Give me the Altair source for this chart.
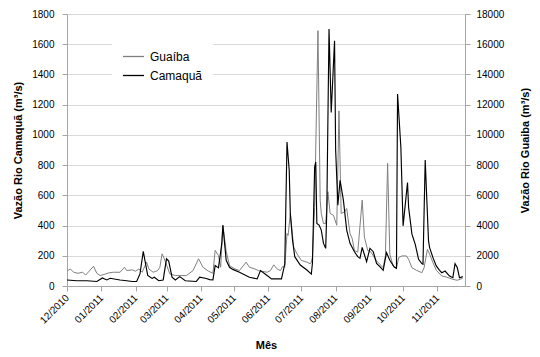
import altair as alt
import pandas as pd

# Days since 2010-12-01 and flow values
cam_day = [0, 9, 18, 27, 32, 36, 39, 44, 48, 54,
           59, 63, 66, 69, 71, 73, 77, 79, 83, 87,
           90, 92, 95, 98, 102, 107, 117, 120, 126, 129,
           132, 134, 137, 140, 141, 144, 147, 150, 156, 165,
           172, 175, 181, 185, 194, 197, 199, 201, 202, 204,
           206, 211, 217, 221, 222, 224, 225, 226, 228, 230,
           232, 234, 235, 237, 239, 242, 243, 245, 247, 250,
           253, 256, 260, 263, 265, 267, 271, 274, 277, 280,
           283, 286, 289, 292, 296, 298, 299, 302, 304, 308,
           309, 312, 315, 318, 321, 322, 324, 327, 328, 331,
           334, 337, 339, 342, 346, 349, 351, 353, 355, 358]
cam_val = [40, 35, 35, 30, 53, 40, 51, 45, 40, 35,
           30, 30, 80, 229, 150, 70, 50, 58, 35, 40,
           180, 165, 58, 40, 62, 35, 30, 58, 50, 42,
           40, 135, 120, 280, 402, 170, 124, 110, 91, 58,
           47, 102, 69, 47, 47, 147, 953, 766, 480, 304,
           194, 139, 106, 79, 150, 788, 820, 414, 403, 370,
           282, 249, 500, 1700, 1148, 1623, 900, 535, 700, 568,
           370, 282, 227, 194, 183, 255, 161, 249, 227, 150,
           128, 104, 221, 170, 126, 117, 1271, 917, 398, 685,
           519, 343, 276, 177, 148, 144, 833, 298, 254, 188,
           133, 104, 88, 99, 66, 55, 148, 122, 55, 62]

gua_day = [0, 3, 6, 10, 14, 17, 20, 24, 27, 30,
           35, 38, 42, 48, 52, 54, 59, 62, 65, 68,
           72, 74, 78, 82, 84, 86, 88, 93, 98, 108,
           114, 119, 123, 128, 132, 134, 137, 139, 141, 144,
           147, 152, 156, 162, 165, 170, 173, 176, 181, 184,
           187, 190, 193, 195, 197, 199, 200, 202, 205, 208,
           212, 217, 220, 221, 222, 224, 227, 229, 230, 232,
           234, 236, 238, 241, 244, 246, 248, 251, 253, 256,
           258, 260, 263, 267, 269, 272, 275, 280, 286, 288,
           290, 292, 295, 298, 300, 303, 307, 309, 312, 316,
           321, 323, 326, 328, 331, 334, 339, 343, 349, 353,
           358]
gua_val = [980, 1130, 910, 840, 910, 730, 980, 1310, 840, 690,
           800, 870, 910, 910, 1240, 1020, 1070, 980, 1130, 910,
           1580, 1130, 910, 1020, 1240, 2130, 1800, 800, 690, 690,
           1020, 1800, 1240, 980, 840, 2360, 2020, 1240, 4020, 2300,
           1350, 1130, 1020, 1580, 1240, 1130, 1020, 980, 910, 1020,
           1400, 1130, 1020, 1290, 1240, 3470, 3350, 4800, 2580, 2130,
           1690, 1580, 1470, 1580, 1910, 5200, 16900, 5680, 4800, 4130,
           4130, 6240, 4800, 4680, 4020, 11590, 4800, 4910, 5130, 3470,
           3130, 2350, 2240, 5680, 3240, 2350, 2240, 1660, 1210, 2000,
           8120, 2100, 1330, 1150, 1880, 1990, 1990, 1770, 1210, 1040,
           880, 1210, 2430, 2100, 1550, 1040, 660, 600, 440, 380,
           510]

series_names = ["Guaíba", "Camaquã"]
series_colors = ["#808080", "#000000"]
left_ticks = list(range(0, 1801, 200))
right_ticks = list(range(0, 18001, 2000))

base_date = pd.Timestamp("2010-12-01")
cam = pd.DataFrame({"date": base_date + pd.to_timedelta(cam_day, unit="D"),
                    "value": cam_val, "series": "Camaquã"})
gua = pd.DataFrame({"date": base_date + pd.to_timedelta(gua_day, unit="D"),
                    "value": gua_val, "series": "Guaíba"})

FONT = "Liberation Sans"
AXC = "#a6a6a6"

month_ticks = [alt.DateTime(year=2010, month=12, date=1)] + [
    alt.DateTime(year=2011, month=m, date=1) for m in range(1, 12)]
xscale = alt.Scale(domain=[alt.DateTime(year=2010, month=12, date=1),
                           alt.DateTime(year=2011, month=11, date=26)])
xaxis = alt.Axis(values=month_ticks, format="%m/%Y", formatType="time",
                 labelAngle=315, labelAlign="right", labelBaseline="middle",
                 labelPadding=5, labelOverlap=False, tickSize=5, grid=False,
                 title="Mês", titleY=59, titleBaseline="middle",
                 domainColor=AXC, tickColor=AXC)

color = alt.Color("series:N",
                  scale=alt.Scale(domain=series_names, range=series_colors),
                  legend=alt.Legend(title=None, orient="none", legendX=45, legendY=21,
                                    symbolType="stroke", symbolSize=441,
                                    symbolStrokeWidth=1.3, labelFontSize=12,
                                    labelFont=FONT, fillColor="white", padding=10,
                                    rowPadding=1, labelOffset=5))

gua_line = alt.Chart(gua).mark_line(strokeWidth=1.0).encode(
    x=alt.X("date:T", scale=xscale, axis=xaxis),
    y=alt.Y("value:Q", scale=alt.Scale(domain=[0, 18000]),
            axis=alt.Axis(orient="right", values=right_ticks, format="d", grid=False,
                          title="Vazão Rio Guaiba (m³/s)", tickSize=5, labelPadding=6,
                          domainColor=AXC, tickColor=AXC, labelOverlap=False,
                          titleX=60, titleY=136, titleAngle=270,
                          titleBaseline="middle", titleAlign="center")),
    color=color,
)

cam_line = alt.Chart(cam).mark_line(strokeWidth=1.15).encode(
    x=alt.X("date:T", scale=xscale, axis=xaxis),
    y=alt.Y("value:Q", scale=alt.Scale(domain=[0, 1800]),
            axis=alt.Axis(orient="left", values=left_ticks, format="d", grid=True,
                          gridColor="#d9d9d9", title="Vazão Rio Camaquã (m³/s)",
                          tickSize=5, labelPadding=8, domainColor=AXC, tickColor=AXC,
                          labelOverlap=False,
                          titleX=-49, titleY=136, titleAngle=270,
                          titleBaseline="middle", titleAlign="center")),
    color=color,
)

chart = alt.layer(gua_line, cam_line).resolve_scale(y="independent").properties(
    width=398, height=272,
    autosize=alt.AutoSizeParams(type="none"),
    padding={"left": 67, "top": 14, "right": 75, "bottom": 71},
).configure_view(stroke=None).configure_axis(
    labelFont=FONT, labelFontSize=11, labelColor="#000000",
    titleFont=FONT, titleFontSize=12, titleFontWeight="bold", titleColor="#000000",
).configure(background="white")

chart.save("out.html", embed_options={"renderer": "svg", "actions": False})
